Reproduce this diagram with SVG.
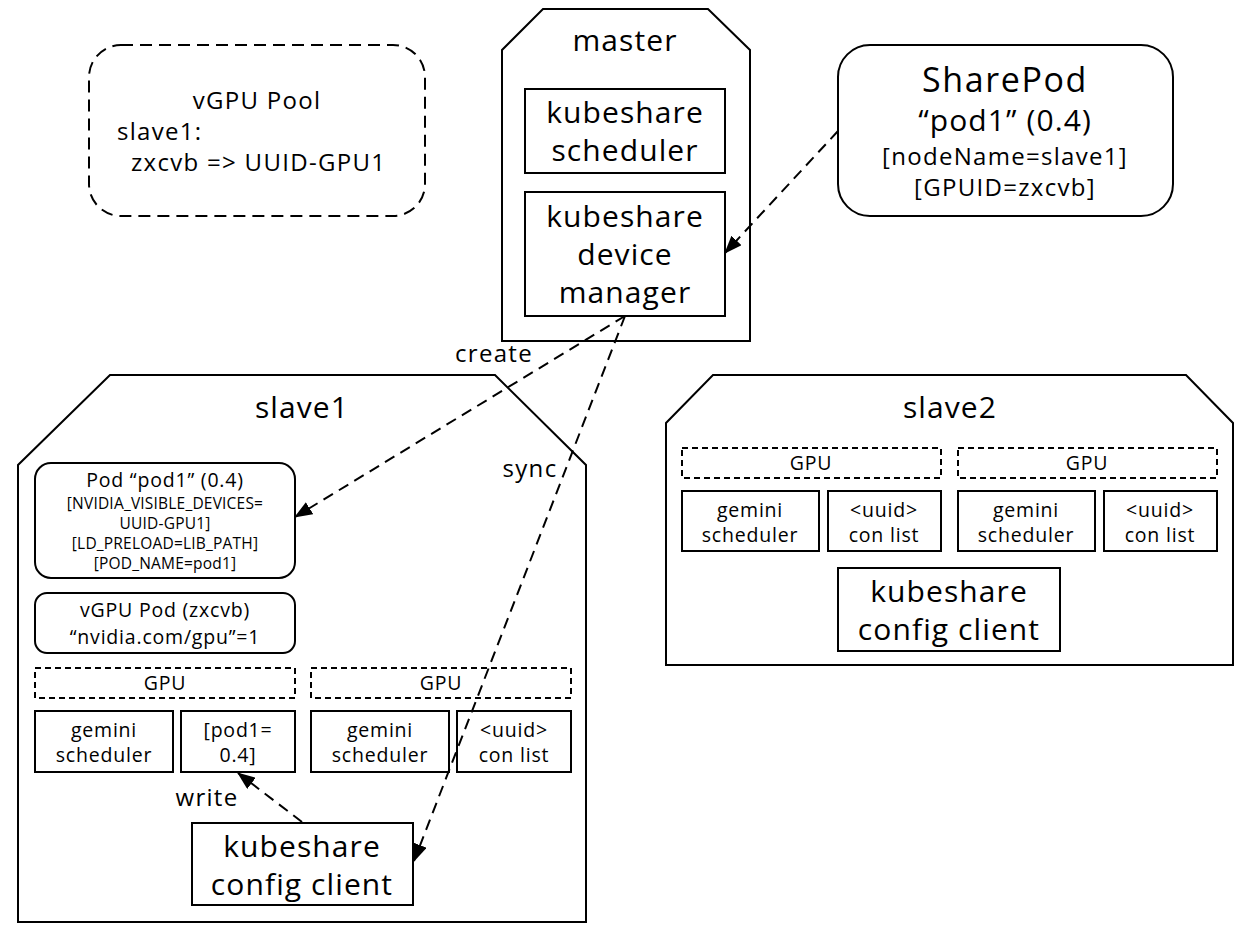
<svg xmlns="http://www.w3.org/2000/svg" width="1250" height="938" viewBox="0 0 1250 938">
<defs>
<style>
text{font-family:"Open Sans","Noto Sans","Liberation Sans",sans-serif;fill:#000;text-anchor:middle}
.box{fill:#fff;stroke:#000;stroke-width:2}
.dbox{fill:#fff;stroke:#000;stroke-width:2;stroke-dasharray:6,4}
.pool{fill:#fff;stroke:#000;stroke-width:2;stroke-dasharray:12,7}
.edge{fill:none;stroke:#000;stroke-width:2;stroke-dasharray:11,7}
.f34{font-size:34px;letter-spacing:1.6px}
.f30{font-size:30px;letter-spacing:1.1px}
.f24{font-size:24px;letter-spacing:1.3px}
.f20{font-size:19.5px;letter-spacing:0.8px}
.f15{font-size:15.5px;letter-spacing:0.2px}
</style>
<marker id="ah" markerWidth="18" markerHeight="14" refX="17" refY="7" orient="auto" markerUnits="userSpaceOnUse">
<path d="M0,0 L18,7 L0,14 Z" fill="#000"/>
</marker>
</defs>
<rect width="1250" height="938" fill="#fff"/>

<g id="vgpu-pool">
<rect class="pool" x="89" y="45" width="336" height="171" rx="32"/>
<text class="f24" x="257" y="109">vGPU Pool</text>
<text class="f24" x="117" y="140" style="text-anchor:start">slave1:</text>
<text class="f24" x="131" y="171" style="text-anchor:start">zxcvb =&gt; UUID-GPU1</text>
</g>

<g id="master">
<polygon class="box" points="543,9 708,9 750,50 750,341 502,341 502,50"/>
<text class="f30" x="625" y="51">master</text>
</g>
<g id="kubeshare-scheduler">
<rect class="box" x="525" y="89" width="200" height="84"/>
<text class="f30" x="625" y="123">kubeshare</text>
<text class="f30" x="625" y="161">scheduler</text>
</g>
<g id="kubeshare-device-manager">
<rect class="box" x="525" y="192" width="200" height="124"/>
<text class="f30" x="625" y="227">kubeshare</text>
<text class="f30" x="625" y="265">device</text>
<text class="f30" x="625" y="303">manager</text>
</g>

<g id="sharepod">
<rect class="box" x="838" y="45" width="335" height="171" rx="32"/>
<text class="f34" x="1005" y="92">SharePod</text>
<text class="f30" x="1005" y="131">“pod1” (0.4)</text>
<text class="f24" x="1005" y="165">[nodeName=slave1]</text>
<text class="f24" x="1005" y="196">[GPUID=zxcvb]</text>
</g>

<g id="slave1">
<polygon class="box" points="110,375 495,375 586,465 586,922 18,922 18,465"/>
<text class="f30" x="302" y="418">slave1</text>
</g>
<g id="pod1">
<rect class="box" x="35" y="463" width="260" height="115" rx="16"/>
<text class="f20" x="165" y="487">Pod “pod1” (0.4)</text>
<text class="f15" x="165" y="509">[NVIDIA_VISIBLE_DEVICES=</text>
<text class="f15" x="165" y="529">UUID-GPU1]</text>
<text class="f15" x="165" y="549">[LD_PRELOAD=LIB_PATH]</text>
<text class="f15" x="165" y="569">[POD_NAME=pod1]</text>
</g>
<g id="vgpu-pod">
<rect class="box" x="35" y="593" width="260" height="60" rx="12"/>
<text class="f20" x="165" y="617">vGPU Pod (zxcvb)</text>
<text class="f20" x="165" y="644">“nvidia.com/gpu”=1</text>
</g>
<g id="s1-gpu1">
<rect class="dbox" x="35" y="668" width="260" height="30"/>
<text class="f20" x="165" y="690">GPU</text>
</g>
<g id="s1-gemini1">
<rect class="box" x="35" y="711" width="138" height="61"/>
<text class="f20" x="104" y="737">gemini</text>
<text class="f20" x="104" y="762">scheduler</text>
</g>
<g id="s1-pod1-list">
<rect class="box" x="181" y="711" width="114" height="61"/>
<text class="f20" x="238" y="737">[pod1=</text>
<text class="f20" x="238" y="762">0.4]</text>
</g>
<g id="s1-gpu2">
<rect class="dbox" x="311" y="668" width="260" height="30"/>
<text class="f20" x="441" y="690">GPU</text>
</g>
<g id="s1-gemini2">
<rect class="box" x="311" y="711" width="138" height="61"/>
<text class="f20" x="380" y="737">gemini</text>
<text class="f20" x="380" y="762">scheduler</text>
</g>
<g id="s1-uuid2">
<rect class="box" x="457" y="711" width="114" height="61"/>
<text class="f20" x="514" y="737">&lt;uuid&gt;</text>
<text class="f20" x="514" y="762">con list</text>
</g>
<g id="s1-config-client">
<rect class="box" x="192" y="823" width="221" height="82"/>
<text class="f30" x="302" y="857">kubeshare</text>
<text class="f30" x="302" y="895">config client</text>
</g>

<g id="slave2">
<polygon class="box" points="713,375 1186,375 1233,423 1233,665 666,665 666,423"/>
<text class="f30" x="950" y="418">slave2</text>
</g>
<g id="s2-gpu1">
<rect class="dbox" x="682" y="448" width="259" height="30"/>
<text class="f20" x="811" y="470">GPU</text>
</g>
<g id="s2-gemini1">
<rect class="box" x="682" y="491" width="137" height="60"/>
<text class="f20" x="750" y="517">gemini</text>
<text class="f20" x="750" y="542">scheduler</text>
</g>
<g id="s2-uuid1">
<rect class="box" x="828" y="491" width="113" height="60"/>
<text class="f20" x="884" y="517">&lt;uuid&gt;</text>
<text class="f20" x="884" y="542">con list</text>
</g>
<g id="s2-gpu2">
<rect class="dbox" x="958" y="448" width="259" height="30"/>
<text class="f20" x="1087" y="470">GPU</text>
</g>
<g id="s2-gemini2">
<rect class="box" x="958" y="491" width="137" height="60"/>
<text class="f20" x="1026" y="517">gemini</text>
<text class="f20" x="1026" y="542">scheduler</text>
</g>
<g id="s2-uuid2">
<rect class="box" x="1104" y="491" width="113" height="60"/>
<text class="f20" x="1160" y="517">&lt;uuid&gt;</text>
<text class="f20" x="1160" y="542">con list</text>
</g>
<g id="s2-config-client">
<rect class="box" x="838" y="568" width="222" height="83"/>
<text class="f30" x="949" y="602">kubeshare</text>
<text class="f30" x="949" y="640">config client</text>
</g>

<g id="connectors">
<line class="edge" x1="838" y1="131" x2="725" y2="253" marker-end="url(#ah)"/>
<line class="edge" x1="625" y1="316" x2="295" y2="517" marker-end="url(#ah)"/>
<text class="f24" x="494" y="362">create</text>
<line class="edge" x1="625" y1="316" x2="414" y2="861" marker-end="url(#ah)"/>
<text class="f24" x="530" y="477">sync</text>
<line class="edge" x1="302" y1="822" x2="238" y2="773" marker-end="url(#ah)"/>
<text class="f24" x="207" y="806">write</text>
</g>
</svg>
